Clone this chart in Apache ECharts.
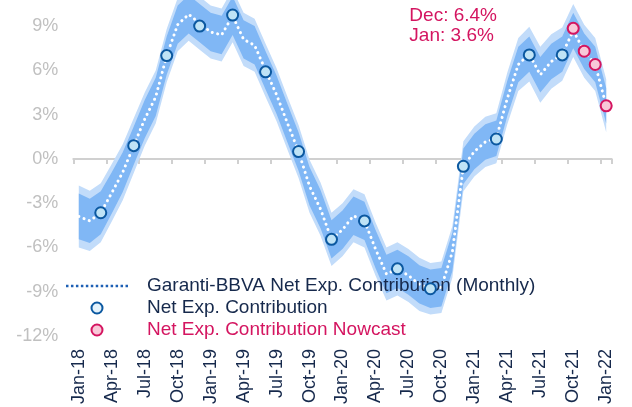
<!DOCTYPE html>
<html>
<head>
<meta charset="utf-8">
<script src="https://cdn.jsdelivr.net/npm/echarts@6/dist/echarts.min.js"></script>
<style>html,body{margin:0;padding:0;background:#fff;}#c{width:632px;height:407px;}</style>
</head>
<body>
<div id="c"></div>
<script>
const months = ['Jan-18','Feb-18','Mar-18','Apr-18','May-18','Jun-18','Jul-18','Aug-18','Sep-18','Oct-18','Nov-18','Dec-18',
  'Jan-19','Feb-19','Mar-19','Apr-19','May-19','Jun-19','Jul-19','Aug-19','Sep-19','Oct-19','Nov-19','Dec-19',
  'Jan-20','Feb-20','Mar-20','Apr-20','May-20','Jun-20','Jul-20','Aug-20','Sep-20','Oct-20','Nov-20','Dec-20',
  'Jan-21','Feb-21','Mar-21','Apr-21','May-21','Jun-21','Jul-21','Aug-21','Sep-21','Oct-21','Nov-21','Dec-21','Jan-22'];

// Garanti-BBVA Net Exp. Contribution (Monthly), %
const monthlyValues = [-3.9,-4.2,-3.65,-2.3,-0.9,0.9,2.7,4.2,7.0,9.1,9.8,9.2,
  8.6,8.4,9.7,8.1,7.7,6.0,4.35,2.4,0.5,-1.85,-3.4,-5.45,
  -4.8,-3.85,-4.2,-6.1,-7.8,-7.45,-7.9,-8.5,-8.8,-8.7,-6.3,-0.5,
  0.5,1.15,1.4,4.1,6.4,7.1,5.7,6.6,7.1,8.7,7.3,6.4,3.6];

// uncertainty band half-widths (percentage points)
const innerHalfWidth = [1.55,1.5,1.45,1.4,1.35,1.3,1.3,1.3,1.3,1.3,1.3,1.3,
  1.3,1.3,1.3,1.3,1.3,1.3,1.3,1.3,1.3,1.3,1.3,1.3,
  1.3,1.3,1.3,1.3,1.3,1.3,1.3,1.3,1.3,1.3,1.3,1.2,
  1.2,1.2,1.2,1.2,1.2,1.2,1.2,1.2,1.2,1.2,1.2,1.2,1.2];
const outerHalfWidth = [2.1,2.05,2.0,1.95,1.9,1.85,1.8,1.8,1.8,1.8,1.8,1.8,
  1.8,1.8,1.8,1.8,1.8,1.8,1.8,1.8,1.8,1.8,1.8,1.8,
  1.8,1.8,1.8,1.8,1.8,1.8,1.8,1.8,1.75,1.75,1.75,1.7,
  1.7,1.7,1.7,1.75,1.8,1.85,1.9,1.85,1.8,1.8,1.8,1.8,1.8];

// Net Exp. Contribution (quarterly)
const quarterMonths = ['Mar-18','Jun-18','Sep-18','Dec-18','Mar-19','Jun-19','Sep-19','Dec-19','Mar-20','Jun-20','Sep-20','Dec-20','Mar-21','Jun-21','Sep-21'];
const quarterValues = [-3.65,0.9,7.0,9.0,9.75,5.9,0.5,-5.45,-4.2,-7.45,-8.8,-0.5,1.35,7.05,7.05];

// Nowcast
const nowcastMonths = ['Oct-21','Nov-21','Dec-21','Jan-22'];
const nowcastValues = [8.85,7.3,6.4,3.6];

// y axis: ticks every 3% from -12%; the top of the plot is cut at about 10.8%
const yTicks = {min:-12, max:10.77, interval:3};

const NAVY = '#16294c', CRIMSON = '#d41560';
const FONT = 'Liberation Sans, Arial, sans-serif';

const outerLow = monthlyValues.map((v,i)=>+(v-outerHalfWidth[i]).toFixed(3));
const outerSpan = outerHalfWidth.map(w=>2*w);
const innerLow = monthlyValues.map((v,i)=>+(v-innerHalfWidth[i]).toFixed(3));
const innerSpan = innerHalfWidth.map(w=>2*w);

let dots = '';
for (let k=0;k<13;k++){ dots += 'M'+(k*5)+',0h2.5v2.5h-2.5z'; }
const dottedIcon = 'path://' + dots;

const chart = echarts.init(document.getElementById('c'), null, {renderer:'canvas'});
const bandBase = {type:'line', symbol:'none', silent:true, stackStrategy:'all', lineStyle:{width:0, opacity:0}, emphasis:{disabled:true}, z:1};
chart.setOption({
  animation:false,
  textStyle:{fontFamily:FONT},
  grid:{left:73.3, right:20.3, top:0, bottom:65.5},
  xAxis:[
    {type:'category', data:months, boundaryGap:true,
     axisLine:{onZero:true, lineStyle:{color:'#d0d0d0', width:2}},
     axisTick:{show:true, interval:2, length:5, lineStyle:{color:'#d0d0d0', width:2}},
     axisLabel:{show:false}, splitLine:{show:false}},
    {type:'category', data:months, boundaryGap:true, position:'bottom',
     axisLine:{show:false, onZero:false}, axisTick:{show:false}, splitLine:{show:false},
     axisLabel:{interval:2, rotate:90, margin:13, color:NAVY, fontSize:18, fontFamily:FONT}}
  ],
  yAxis:{type:'value', min:yTicks.min, max:yTicks.max, interval:yTicks.interval,
    axisLine:{show:false}, axisTick:{show:false}, splitLine:{show:false},
    axisLabel:{formatter:'{value}%', showMaxLabel:false, color:'#c0c0c0', fontSize:18, margin:15, fontFamily:FONT}},
  legend:{orient:'vertical', left:61, top:271, itemWidth:62, itemHeight:11, itemGap:2,
    textStyle:{fontSize:19, lineHeight:20, color:NAVY, padding:[0,0,0,14], fontFamily:FONT},
    data:[
      {name:'Garanti-BBVA Net Exp. Contribution (Monthly)', icon:dottedIcon, itemStyle:{color:'#1d5fb4', borderWidth:0}},
      {name:'Net Exp. Contribution', icon:'circle', itemStyle:{color:'#e4f2fb', borderColor:'#0b58a0', borderWidth:2}},
      {name:'Net Exp. Contribution Nowcast', icon:'circle', itemStyle:{color:'#f8c8d8', borderColor:CRIMSON, borderWidth:2}, textStyle:{color:CRIMSON}}
    ]},
  graphic:[{type:'text', right:135, top:6, silent:true,
    style:{text:'Dec: '+nowcastValues[2]+'%\nJan: '+nowcastValues[3]+'%', fill:CRIMSON, font:'19px '+FONT, align:'right', lineHeight:20}}],
  series:[
    Object.assign({}, bandBase, {name:'outerLow', stack:'outer', data:outerLow}),
    Object.assign({}, bandBase, {name:'outerBand', stack:'outer', data:outerSpan, areaStyle:{color:'#c2dcfa', opacity:1}}),
    Object.assign({}, bandBase, {name:'innerLow', stack:'inner', data:innerLow, z:2}),
    Object.assign({}, bandBase, {name:'innerBand', stack:'inner', data:innerSpan, z:2, areaStyle:{color:'#80b7f5', opacity:1}}),
    {name:'Garanti-BBVA Net Exp. Contribution (Monthly)', type:'line', data:monthlyValues, symbol:'none', z:3,
     itemStyle:{color:'#1d5fb4'},
     lineStyle:{color:'#ffffff', width:3, type:[0.1,5.5], cap:'round'}, emphasis:{disabled:true}},
    {name:'Net Exp. Contribution', type:'scatter', z:4, symbol:'circle', symbolSize:11,
     data:quarterMonths.map((m,i)=>[m, quarterValues[i]]),
     itemStyle:{color:'#bfe3f6', borderColor:'#0b58a0', borderWidth:2, opacity:1}, emphasis:{disabled:true}},
    {name:'Net Exp. Contribution Nowcast', type:'scatter', z:4, symbol:'circle', symbolSize:11,
     data:nowcastMonths.map((m,i)=>[m, nowcastValues[i]]),
     itemStyle:{color:'#f8c8d8', borderColor:CRIMSON, borderWidth:2, opacity:1}, emphasis:{disabled:true}}
  ]
});
</script>
</body>
</html>
